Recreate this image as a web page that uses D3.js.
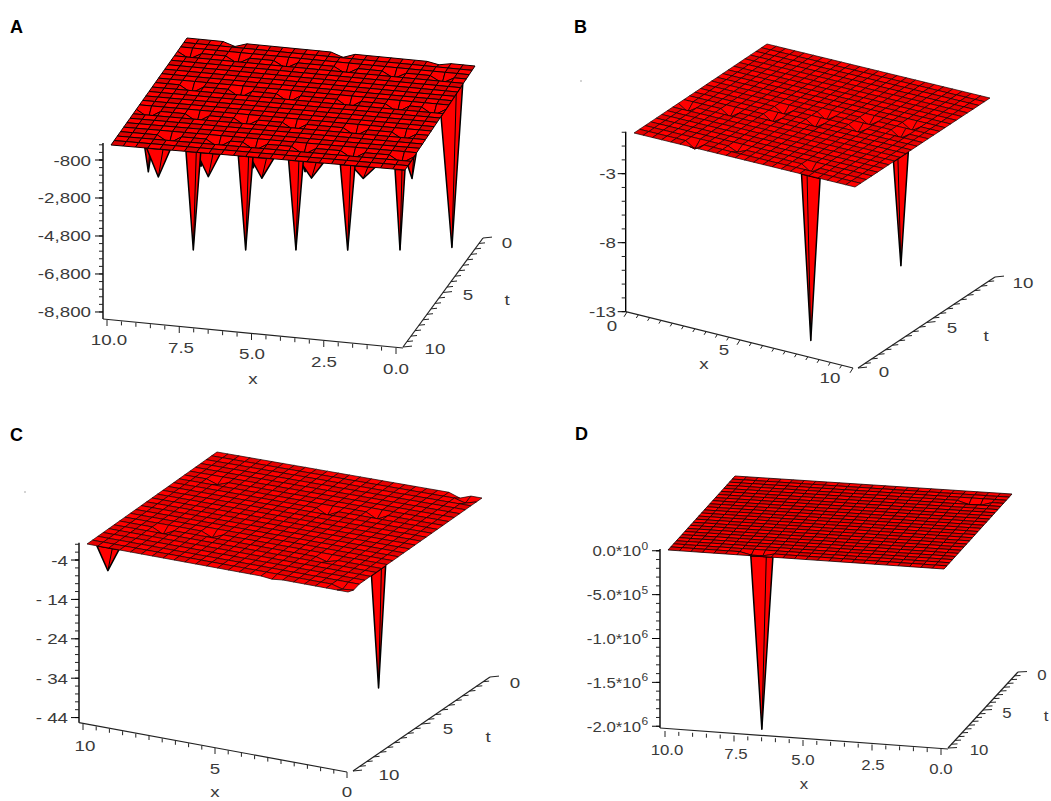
<!DOCTYPE html>
<html><head><meta charset="utf-8">
<script src="https://cdnjs.cloudflare.com/ajax/libs/d3/7.8.5/d3.min.js"></script>
<style>html,body{margin:0;padding:0;background:#fff}svg{display:block}</style>
</head><body><svg id="c" width="1051" height="801"></svg>
<script>
// ---------- values ----------
const gridIndex = [0,1,2,3,4,5,6,7,8,9,10,11,12,13,14,15,16,17,18,19,20,21,22,23,24];

// flat level of each surface
const baseA = 95, baseB = 0, baseC = 0.4, baseD = 20000;

// deep spikes: [x, t, z at tip, half width, direction of the width]
const spikesA = [
 [8.73,10,-1150,.12,"x"],[6.94,10,-625,.12,"x"],[5.16,10,-470,.12,"x"],[3.40,10,-440,.12,"x"],
 [8.39,10,-1380,.40,"x"],[6.69,10,-1140,.40,"x"],[4.87,10,-980,.40,"x"],[3.18,10,-750,.40,"x"],[1.42,10,-540,.40,"x"],[0,9,-905,.6,"t"],
 [7.2,10,-5063,.25,"x"],[5.42,10,-4831,.25,"x"],[3.71,10,-4605,.25,"x"],[1.95,10,-4379,.25,"x"],[0.17,10,-4136,.17,"x"],
 [0,3.3,-7650,1.55,"t"]];
const spikesB = [[8,0,-11.9,.42,"x"],[10,3.4,-7.9,.55,"t"]];
const spikesC = [[9.2,10,-5.4,.42,"x"],[0,7.72,-29.4,.53,"t"]];
const spikesD = [[6.6,10,-1950000,.40,"x"]];

// shallow dents on the sheet: [column, row from back, z]
const dentsA = [
 [1,3,-340],[5,3,-340],[9,3,-340],[14,3,-340],[18,3,-340],[22,3,-340],
 [3,10,-380],[7,10,-380],[11,10,-380],[16,10,-380],[20,10,-380],[23,10,-380],
 [1,16,-380],[5,16,-380],[9,16,-380],[13,16,-380],[18,16,-380],[22,16,-380],
 [4,21,-380],[8,21,-380],[11,21,-380],[15,21,-380],[19,21,-380],[23,21,-380],
 [4,0,-200],[13,0,-220],[21,0,-120]];
const dentsB = [
 [1,16,-.45],[5,15,-.45],[9,14,-.45],[9,12,-.45],[13,13,-.45],[13,11,-.45],[17,12,-.45],
 [17,10,-.45],[21,11,-.45],[21,9,-.45],[6,23,-.45],[10,22,-.3],[18,22,-.45]];
const dentsC = [
 [4,18,-1.4],[8,17,-1.2],[3,6,-1],[14,8,-1.4],[18,7,-1.4],[19,18,-.8],
 [22,0,-1],[23,1,-.8],[23,23,-.8],[24,23,-.5],[17,24,-.3]];
const dentsD = [[21,3,-40000],[22,3,-40000],[7,23,-30000],[8,23,-30000]];

// axis ticks and labels
const zTicksA = [-800,-2800,-4800,-6800,-8800];
const zLabelsA = ["-800","-2,800","-4,800","-6,800","-8,800"];
const zTicksB = [-3,-8,-13];
const zLabelsB = ["-3","-8","-13"];
const zTicksC = [-4,-14,-24,-34,-44];
const zLabelsC = ["-4","- 14","- 24","- 34","- 44"];
const zTicksD = [0,-500000,-1000000,-1500000,-2000000];
const zLabelsD = ["0.0*10","-5.0*10","-1.0*10","-1.5*10","-2.0*10"];
const zExpD = ["0","5","6","6","6"];
const xTicksA = [10,7.5,5,2.5,0], xLabelsA = ["10.0","7.5","5.0","2.5","0.0"];
const xTicksB = [0,5,10], xLabelsB = ["0","5","10"];
const xTicksC = [10,5,0], xLabelsC = ["10","5","0"];
const xTicksD = [10,7.5,5,2.5,0], xLabelsD = ["10.0","7.5","5.0","2.5","0.0"];
const tTicksA = [0,5,10], tLabelsA = ["0","5","10"];
const tTicksB = [10,5,0], tLabelsB = ["10","5","0"];
const tTicksC = [0,5,10], tLabelsC = ["0","5","10"];
const tTicksD = [0,5,10], tLabelsD = ["0","5","10"];

// ---------- layout ----------
const panels = [
 {name:"A",tag:[10,33],base:baseA,spikes:spikesA,dents:dentsA,
  xFront:[10,0],tFront:[0,10],
  BL:[187,38],BR:[475,66],FL:[111,145],FR:[405,170],
  zAxis:{x:103,y0:143,y1:319,dom:[95,-9170],minor:400},zT:zTicksA,zL:zLabelsA,zLabelX:91,
  xAxis:{a:[107,320],b:[396,348],start:[103,319],end:[403,348],minor:.5,dir:[0,1]},xT:xTicksA,xL:xLabelsA,
  xLP:[[109,345],[181,353],[252,359],[324,367],[396,374]],xName:[253,384],
  tAxis:{a:[483,238],b:[403,347],minor:.5,dom:[0,10],dir:[1,-.1]},tT:tTicksA,tL:tLabelsA,
  tLP:[[507,248],[468,300],[435,354]],tName:[507,305],fs:15,sx:1.25,lw:1,dark:"#dc0000"},
 {name:"B",tag:[574,33],base:baseB,spikes:spikesB,dents:dentsB,
  xFront:[0,10],tFront:[10,0],
  BL:[767,44],BR:[990,98],FL:[634,133],FR:[855,187],
  zAxis:{x:625.7,y0:131.7,y1:311.7,dom:[.04,-13],minor:1},zT:zTicksB,zL:zLabelsB,zLabelX:616,
  xAxis:{a:[627,312],b:[853,368],start:[625.7,311.7],end:[853,368],minor:.5,dir:[-.5,.8]},xT:xTicksB,xL:xLabelsB,
  xLP:[[612,331],[724,355],[830,383]],xName:[704,369],
  tAxis:{a:[995,277],b:[858,368],minor:.5,dom:[10,0],dir:[1,-.1]},tT:tTicksB,tL:tLabelsB,
  tLP:[[1023,288],[952,333],[884,377]],tName:[986,341],fs:15,sx:1.25,lw:.7,dark:"#e40000"},
 {name:"C",tag:[10,441],base:baseC,spikes:spikesC,dents:dentsC,
  xFront:[10,0],tFront:[0,10],
  BL:[217,452],BR:[482,498],FL:[87,544],FR:[348,592],
  zAxis:{x:79,y0:542.7,y1:722.7,dom:[.4,-45.3],minor:2},zT:zTicksC,zL:zLabelsC,zLabelX:68,
  xAxis:{a:[83,724],b:[347,772],start:[79,722.7],end:[347,772],minor:.5,dir:[0,1]},xT:xTicksC,xL:xLabelsC,
  xLP:[[85,751],[215,774],[347,797]],xName:[215,797],
  tAxis:{a:[490,677],b:[353,771],minor:.5,dom:[0,10],dir:[1,-.1]},tT:tTicksC,tL:tLabelsC,
  tLP:[[515,688],[448,734],[389,780]],tName:[488,742],fs:15,sx:1.25,lw:.7,dark:"#e40000"},
 {name:"D",tag:[575,440],base:baseD,spikes:spikesD,dents:dentsD,
  xFront:[10,0],tFront:[0,10],
  BL:[735,476],BR:[1012,494],FL:[668,550],FR:[944,569],
  zAxis:{x:660,y0:549,y1:728,dom:[20000,-2020000],minor:100000},zT:zTicksD,zL:zLabelsD,zE:zExpD,zLabelX:641,
  xAxis:{a:[665,731],b:[941,749],start:[660,728],end:[948,749],minor:.5,dir:[0,1]},xT:xTicksD,xL:xLabelsD,
  xLP:[[667,755],[736,759],[803,765],[873,770],[941,774]],xName:[804,789],
  tAxis:{a:[1018,672],b:[948,748],minor:.5,dom:[0,10],dir:[1,-.05]},tT:tTicksD,tL:tLabelsD,
  tLP:[[1042,680],[1007,718],[979,755]],tName:[1046,721],fs:14,sx:1.2,lw:.8,dark:"#dc0000"}
];
const specks = [[581,81],[25,492]];

const svg = d3.select("#c");
const red = "#ff0000";

function labelText(g,x,y,s,p,anchor){
  return g.append("text")
    .attr("transform",`translate(${x},${y}) scale(${p.sx},1)`)
    .attr("text-anchor",anchor||"middle")
    .attr("font-family","'Liberation Sans',Arial,sans-serif")
    .attr("font-size",p.fs).attr("fill","#3a3a3a").text(s);
}

panels.forEach(p=>{
  const g = svg.append("g");
  const zPx = d3.scaleLinear().domain(p.zAxis.dom).range([p.zAxis.y0,p.zAxis.y1]);
  const uOfX = d3.scaleLinear().domain(p.xFront).range([0,1]);
  const vOfT = d3.scaleLinear().domain(p.tFront).range([0,1]);
  const uOfI = d3.scaleLinear().domain([0,24]).range([0,1]);
  const project = (u,v,z)=>{
    const top = d3.interpolate(p.BL,p.BR)(u), bot = d3.interpolate(p.FL,p.FR)(u);
    const q = d3.interpolate(top,bot)(v);
    return [q[0], q[1] + zPx(z) - zPx(p.base)];
  };
  const line = d3.line();

  // axes
  const zx = p.zAxis.x;
  g.append("line").attr("x1",zx).attr("x2",zx).attr("y1",p.zAxis.y0).attr("y2",p.zAxis.y1)
    .attr("stroke","#000").attr("stroke-width",1.4);
  const step = p.zAxis.minor, first = p.zT[0];
  const minorUp = d3.range(first, p.zAxis.dom[0]+1e-9, step);
  const minorDown = d3.range(first, p.zAxis.dom[1]-1e-9, -step);
  minorUp.concat(minorDown).forEach(v=>{
    g.append("line").attr("x1",zx-4).attr("x2",zx).attr("y1",zPx(v)).attr("y2",zPx(v)).attr("stroke","#222");
  });
  p.zT.forEach((v,k)=>{
    g.append("line").attr("x1",zx-8).attr("x2",zx).attr("y1",zPx(v)).attr("y2",zPx(v)).attr("stroke","#000");
    labelText(g,p.zLabelX,zPx(v)+5.5,p.zL[k],p,"end");
    if(p.zE){
      g.append("text").attr("transform",`translate(${p.zLabelX+.5},${zPx(v)-1}) scale(1.2,1)`)
       .attr("font-family","'Liberation Sans',Arial,sans-serif").attr("font-size",10).attr("fill","#3a3a3a").text(p.zE[k]);
    }
  });

  const xa = p.xAxis;
  const xSx = d3.scaleLinear().domain(p.xFront).range([xa.a[0],xa.b[0]]);
  const xSy = d3.scaleLinear().domain(p.xFront).range([xa.a[1],xa.b[1]]);
  g.append("path").attr("d",line([xa.start,xa.end])).attr("stroke","#222").attr("stroke-width",1.2).attr("fill","none");
  d3.range(0,10+1e-6,xa.minor).forEach(v=>{
    const major = p.xT.includes(v), len = major?6:4;
    g.append("line").attr("x1",xSx(v)).attr("y1",xSy(v)).attr("x2",xSx(v)+xa.dir[0]*len).attr("y2",xSy(v)+xa.dir[1]*len).attr("stroke","#222");
  });
  p.xL.forEach((s,k)=>labelText(g,p.xLP[k][0],p.xLP[k][1],s,p));
  labelText(g,p.xName[0],p.xName[1],"x",p);

  const ta = p.tAxis;
  const tSx = d3.scaleLinear().domain(ta.dom).range([ta.a[0],ta.b[0]]);
  const tSy = d3.scaleLinear().domain(ta.dom).range([ta.a[1],ta.b[1]]);
  g.append("path").attr("d",line([[tSx(0),tSy(0)],[tSx(10),tSy(10)]])).attr("stroke","#222").attr("stroke-width",1.2).attr("fill","none");
  d3.range(0,10+1e-6,ta.minor).forEach(v=>{
    const major = p.tT.includes(v), len = major?9:6;
    g.append("line").attr("x1",tSx(v)).attr("y1",tSy(v)).attr("x2",tSx(v)+ta.dir[0]*len).attr("y2",tSy(v)+ta.dir[1]*len).attr("stroke","#222");
  });
  p.tL.forEach((s,k)=>labelText(g,p.tLP[k][0],p.tLP[k][1],s,p));
  labelText(g,p.tName[0],p.tName[1],"t",p);

  // spikes go behind the sheet
  p.spikes.forEach(([x,t,z,w,dir])=>{
    const tip = project(uOfX(x),vOfT(t),z);
    const at = s => dir==="x" ? project(uOfX(x+s*w),vOfT(t),p.base) : project(uOfX(x),vOfT(t+s*w),p.base);
    const a = at(-1), b = at(1), c = at(-.4);
    g.append("path").attr("d",line([a,tip,b])+"Z").attr("fill",red).attr("stroke","#000").attr("stroke-width",1.5).attr("stroke-linejoin","round");
    g.append("path").attr("d",line([c,tip])).attr("stroke","#000").attr("stroke-width",1).attr("fill","none");
  });

  // sheet, painted from the back row to the front row
  const zGrid = gridIndex.map(()=>gridIndex.map(()=>p.base));
  const nearDent = new Set();
  p.dents.forEach(([i,j,z])=>{
    zGrid[j][i] = p.base + z;
    [[i,j],[i-1,j],[i,j-1],[i-1,j-1]].forEach(c=>nearDent.add(c.join()));
  });
  const pt = (i,j)=>project(uOfI(i),uOfI(j),zGrid[j][i]);
  gridIndex.slice(0,-1).forEach(j=>{
    gridIndex.slice(0,-1).forEach(i=>{
      const bright = (i+j)%2===0 || nearDent.has([i,j].join());
      g.append("path").attr("d",line([pt(i,j),pt(i+1,j),pt(i+1,j+1),pt(i,j+1)])+"Z")
        .attr("fill",bright?red:p.dark).attr("stroke","#100000").attr("stroke-width",p.lw).attr("stroke-linejoin","round");
    });
  });

  g.append("text").attr("x",p.tag[0]).attr("y",p.tag[1]).attr("font-family","'Liberation Sans',Arial,sans-serif")
    .attr("font-weight","bold").attr("font-size",18).attr("fill","#000").text(p.name);
});
svg.selectAll("circle.sp").data(specks).enter().append("circle").attr("class","sp")
  .attr("cx",d=>d[0]).attr("cy",d=>d[1]).attr("r",.7).attr("fill","#888");
</script></body></html>
